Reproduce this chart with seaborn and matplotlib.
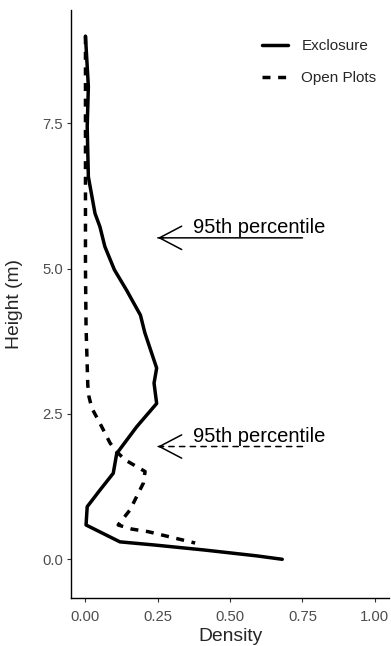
import numpy as np
import pandas as pd
import matplotlib
matplotlib.use("Agg")
import matplotlib.pyplot as plt
import seaborn as sns

# ---- data ----
excl_density = [0.0, 0.01, 0.006, 0.01, 0.033, 0.05, 0.067, 0.10, 0.142, 0.19,
                0.205, 0.246, 0.237, 0.246, 0.177, 0.108, 0.096, 0.05, 0.006,
                0.002, 0.119, 0.24, 0.41, 0.59, 0.68]
excl_height = [9.0, 8.13, 7.44, 6.58, 5.95, 5.72, 5.38, 4.98, 4.63, 4.2,
               3.9, 3.29, 3.03, 2.68, 2.28, 1.82, 1.48, 1.19, 0.905,
               0.59, 0.30, 0.245, 0.16, 0.06, 0.0]
open_density = [0.0, 0.0, 0.0, 0.002, 0.005, 0.008, 0.012, 0.022, 0.05, 0.085,
                0.108, 0.137, 0.206, 0.2, 0.154, 0.113, 0.16, 0.217, 0.379]
open_height = [9.0, 7.5, 5.0, 4.0, 3.5, 3.0, 2.8, 2.6, 2.34, 2.0,
               1.85, 1.71, 1.51, 1.31, 0.85, 0.59, 0.52, 0.475, 0.28]
groups = ["Exclosure", "Open Plots"]

# annotations: 95th percentile heights
p95_heights = [5.53, 1.94]
p95_styles = ["-", "--"]
arrow_from_x = 0.75
arrow_to_x = 0.25
label_x = 0.372
label_text = "95th percentile"

x_ticks = [0.00, 0.25, 0.50, 0.75, 1.00]
x_ticklabels = ["0.00", "0.25", "0.50", "0.75", "1.00"]
y_ticks = [0.0, 2.5, 5.0, 7.5]
y_ticklabels = ["0.0", "2.5", "5.0", "7.5"]

df = pd.concat([
    pd.DataFrame({"density": excl_density, "height": excl_height, "group": groups[0]}),
    pd.DataFrame({"density": open_density, "height": open_height, "group": groups[1]}),
], ignore_index=True)

sns.set_theme(style="ticks")
plt.rcParams["font.family"] = ["Liberation Sans", "DejaVu Sans"]

fig = plt.figure(figsize=(3.91, 6.46), dpi=100)
ax = fig.add_axes([71 / 391, 1 - 598 / 646, (389.3 - 71) / 391, (598 - 10) / 646])

lw = 2.5
sns.lineplot(data=df, x="density", y="height", style="group", units="group",
             estimator=None, sort=False, color="black", linewidth=lw,
             dashes={"Exclosure": "", "Open Plots": (2.3, 2.2)},
             legend=False, ax=ax)

# 95th percentile arrows with labels
for h, ls in zip(p95_heights, p95_styles):
    shaft_dash = (0, (3.5, 3.5)) if ls == "--" else "-"
    ax.annotate("", xy=(arrow_to_x, h), xytext=(arrow_from_x, h),
                arrowprops=dict(arrowstyle="-", color="black", lw=1.1,
                                linestyle=shaft_dash, shrinkA=0, shrinkB=0))
    ax.annotate("", xy=(arrow_to_x, h), xytext=(arrow_to_x + 0.02, h),
                arrowprops=dict(arrowstyle="->,head_length=0.8,head_width=0.42",
                                color="black", lw=1.1, mutation_scale=20,
                                shrinkA=0, shrinkB=0))
    ax.text(label_x, h + 0.08, label_text, ha="left", va="baseline",
            fontsize=14.5, color="black")

# legend
from matplotlib.lines import Line2D
handles = [Line2D([0], [0], color="black", lw=lw, ls="-"),
           Line2D([0], [0], color="black", lw=lw, dashes=(2.3, 2.2))]
leg = ax.legend(handles, groups, loc="upper left", bbox_to_anchor=(0.58, 0.961),
                frameon=False, fontsize=11, handlelength=1.7, handletextpad=0.9,
                labelspacing=1.2, borderaxespad=0)

ax.set_xlim(-0.05, 1.05)
ax.set_ylim(-0.666, 9.45)
ax.set_xticks(x_ticks)
ax.set_xticklabels(x_ticklabels)
ax.set_yticks(y_ticks)
ax.set_yticklabels(y_ticklabels)
ax.tick_params(axis="both", labelsize=10.7, labelcolor="#4D4D4D", length=3,
               width=0.8, color="#333333")
ax.tick_params(axis="x", pad=5.5)
ax.tick_params(axis="y", pad=2.5)
for s in ["top", "right"]:
    ax.spines[s].set_visible(False)
for s in ["left", "bottom"]:
    ax.spines[s].set_linewidth(1.0)
    ax.spines[s].set_color("black")

ax.set_xlabel("Density", fontsize=13.9, labelpad=3)
ax.set_ylabel("Height (m)", fontsize=13.9, labelpad=14)

fig.savefig("out.png", dpi=100)
